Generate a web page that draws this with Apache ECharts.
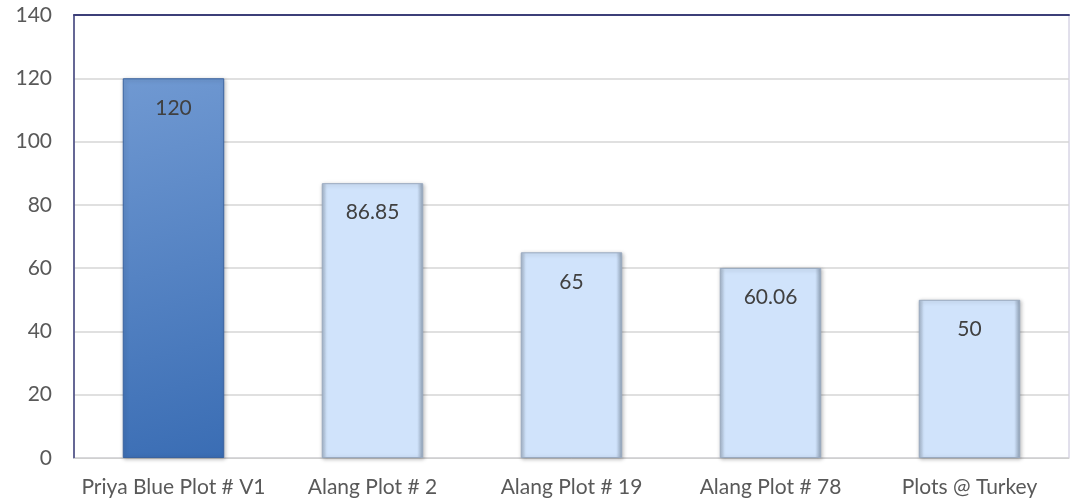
<!DOCTYPE html>
<html>
<head>
<meta charset="utf-8">
<script src="https://cdn.jsdelivr.net/npm/echarts@6/dist/echarts.min.js"></script>
<style>
  html, body { margin: 0; padding: 0; background: #fff; }
  #chart { width: 1071px; height: 499px; }
</style>
</head>
<body>
<div id="chart"></div>
<script>
  // 数据
  var categories = ['Priya Blue Plot # V1', 'Alang Plot # 2', 'Alang Plot # 19', 'Alang Plot # 78', 'Plots @ Turkey'];
  var values = [120, 86.85, 65, 60.06, 50];
  var yTicks = [0, 20, 40, 60, 80, 100, 120, 140];

  var darkFill = {
    type: 'linear', x: 0, y: 0, x2: 1, y2: 1,
    colorStops: [
      { offset: 0, color: '#7099d2' },
      { offset: 1, color: '#3a6db4' }
    ]
  };
  var lightFill = {
    type: 'linear', x: 0, y: 0, x2: 1, y2: 0,
    colorStops: [
      { offset: 0, color: '#a3b4c8' },
      { offset: 0.05, color: '#d0e3fb' },
      { offset: 0.94, color: '#d0e3fb' },
      { offset: 1, color: '#8e9fb4' }
    ]
  };
  var font = 'Lato';

  var chart = echarts.init(document.getElementById('chart'));
  chart.setOption({
    animation: false,
    grid: {
      left: 74, right: 2, top: 15, bottom: 41,
      show: true, borderColor: '#c4c0d8', borderWidth: 1
    },
    xAxis: [{
      type: 'category',
      data: categories,
      axisLine: { lineStyle: { color: '#d0d0d0', width: 1 } },
      axisTick: { show: false },
      axisLabel: { color: '#595959', fontSize: 21, fontFamily: font, margin: 19, interval: 0 }
    }, {
      type: 'category',
      position: 'top',
      data: categories,
      axisLine: { show: true, lineStyle: { color: '#3c3f78', width: 2 } },
      axisTick: { show: false },
      axisLabel: { show: false }
    }],
    yAxis: {
      type: 'value',
      min: yTicks[0],
      max: yTicks[yTicks.length - 1],
      interval: 20,
      axisLine: { show: true, lineStyle: { color: '#3c3f78', width: 1.5 } },
      axisTick: { show: false },
      splitLine: { lineStyle: { color: '#d6d6d6', width: 1.5 } },
      axisLabel: { color: '#595959', fontSize: 21, fontFamily: font, margin: 22 }
    },
    series: [{
      type: 'bar',
      barWidth: '51%',
      data: values.map(function (v, i) {
        return {
          value: v,
          itemStyle: {
            color: i === 0 ? darkFill : lightFill,
            borderColor: i === 0 ? '#3a63a0' : '#9aaac0',
            borderWidth: 1,
            shadowColor: 'rgba(0,0,0,0.25)',
            shadowBlur: 4,
            shadowOffsetX: 1,
            shadowOffsetY: 1
          }
        };
      }),
      label: {
        show: true,
        position: 'insideTop',
        distance: 19,
        color: '#404040',
        fontSize: 21,
        fontFamily: font
      }
    }]
  });
</script>
</body>
</html>
